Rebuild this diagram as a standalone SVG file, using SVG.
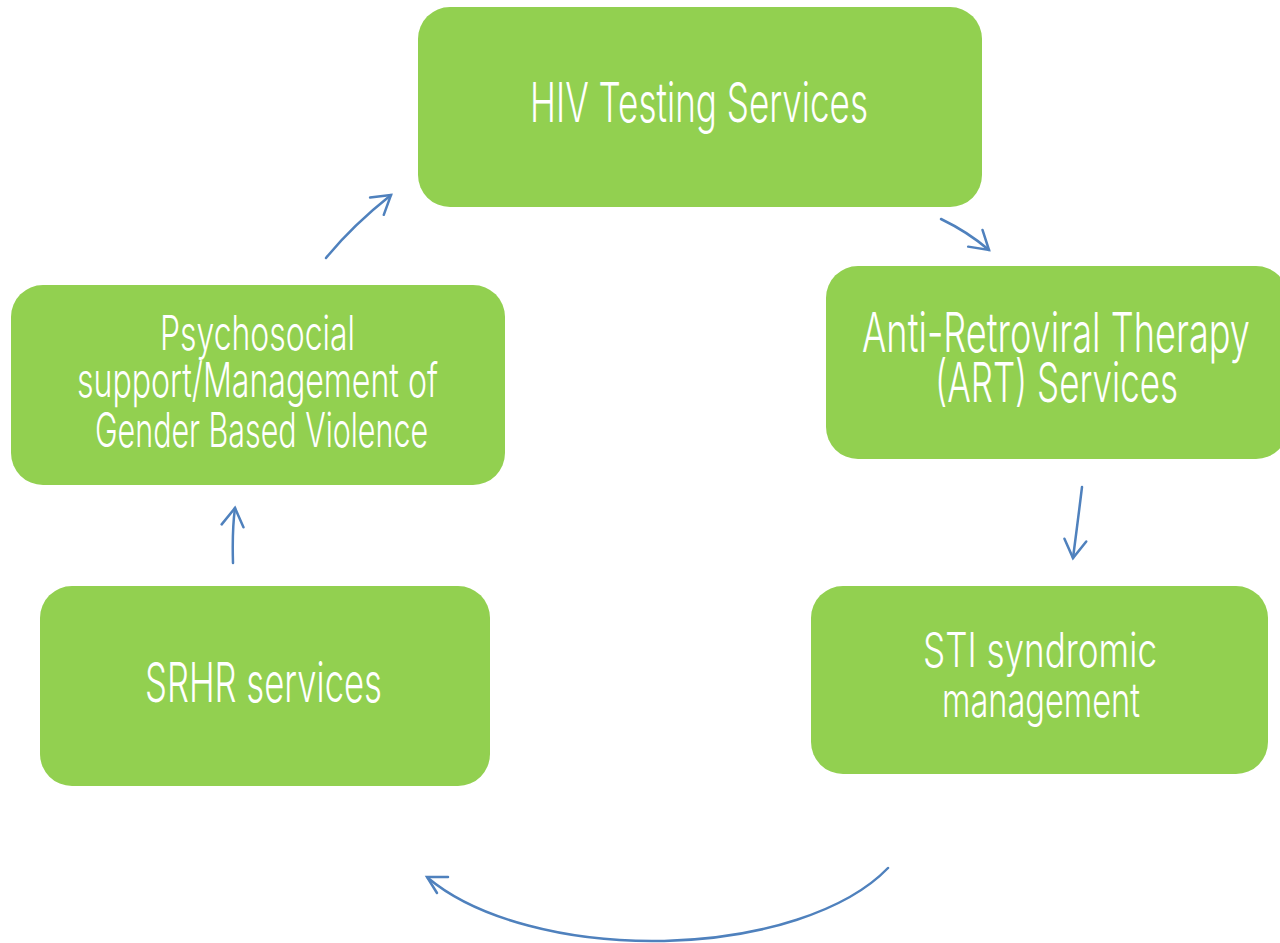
<svg xmlns="http://www.w3.org/2000/svg" width="1280" height="943" viewBox="0 0 1280 943">
<style>
.box{fill:#92d050}
.t{fill:#ffffff;font-family:"Inter","DejaVu Sans",sans-serif;font-weight:300;font-size:55px;text-anchor:start}
.s{font-size:48px}
.c{fill:none;stroke:#4f81bd;stroke-width:2.5;stroke-linecap:round}
.m{marker-end:url(#ah)}
.h{fill:none;stroke:#4f81bd;stroke-width:2.5;stroke-linecap:round;stroke-linejoin:miter}
</style>
<defs>
<marker id="ah" markerUnits="userSpaceOnUse" markerWidth="40" markerHeight="40" viewBox="-25 -20 40 40" refX="0" refY="0" orient="auto">
<path d="M-18,-11 L0,0 L-18,11" fill="none" stroke="#4f81bd" stroke-width="2.5" stroke-linecap="round" stroke-linejoin="miter"/>
</marker>
</defs>
<rect width="1280" height="943" fill="#ffffff"/>
<g id="connectors">
<path class="c m" d="M326,258 Q352,226 391,195"/>
<path class="c m" d="M941,219 Q968,232 989,250"/>
<path class="c m" d="M1082,487 Q1078,520 1073,558"/>
<path class="c m" d="M233,563 Q232,530 235,508"/>
<path class="c" d="M888,868 A260,127 0 0 1 428,878"/>
<polyline class="h" points="448,877 427,877 437,893"/>
</g>
<g id="hiv">
<rect class="box" x="418" y="7" width="564" height="200" rx="32"/>
<text class="t" x="530" y="122" textLength="338" lengthAdjust="spacingAndGlyphs">HIV Testing Services</text>
</g>
<g id="art">
<rect class="box" x="826" y="266" width="462" height="193" rx="32"/>
<text class="t" x="862" y="352" textLength="388" lengthAdjust="spacingAndGlyphs">Anti-Retroviral Therapy</text>
<text class="t" x="935" y="402" textLength="243" lengthAdjust="spacingAndGlyphs">(ART) Services</text>
</g>
<g id="sti">
<rect class="box" x="811" y="586" width="457" height="188" rx="32"/>
<text class="t s" x="923" y="667" textLength="234" lengthAdjust="spacingAndGlyphs">STI syndromic</text>
<text class="t s" x="942" y="717" textLength="198" lengthAdjust="spacingAndGlyphs">management</text>
</g>
<g id="srhr">
<rect class="box" x="40" y="586" width="450" height="200" rx="32"/>
<text class="t" x="145" y="702" textLength="237" lengthAdjust="spacingAndGlyphs">SRHR services</text>
</g>
<g id="psych">
<rect class="box" x="11" y="285" width="494" height="200" rx="32"/>
<text class="t s" x="160" y="350" textLength="195" lengthAdjust="spacingAndGlyphs">Psychosocial</text>
<text class="t s" x="77" y="397" textLength="361" lengthAdjust="spacingAndGlyphs">support/Management of</text>
<text class="t s" x="95" y="447" textLength="333" lengthAdjust="spacingAndGlyphs">Gender Based Violence</text>
</g>
</svg>
